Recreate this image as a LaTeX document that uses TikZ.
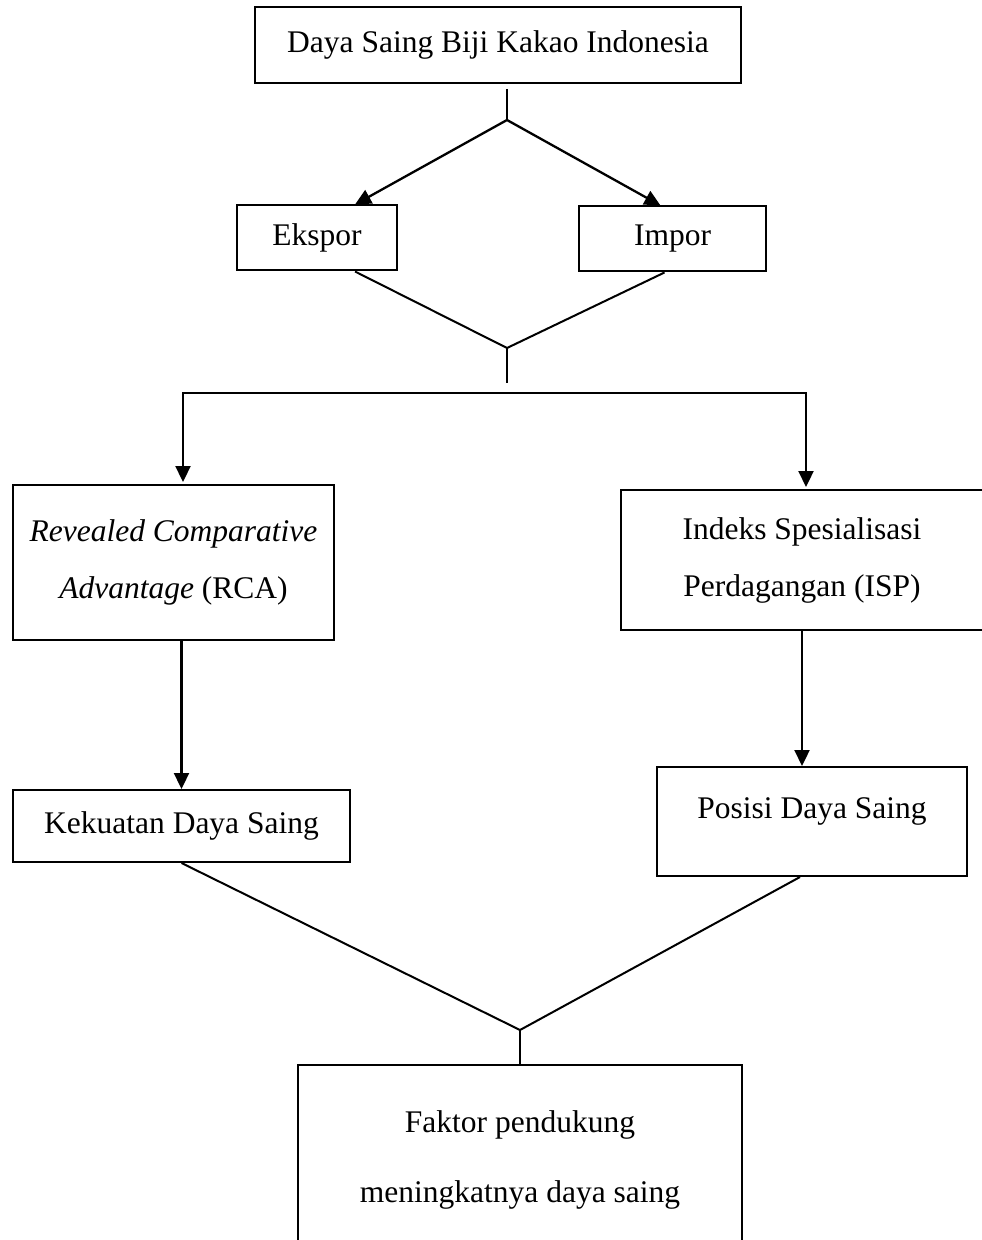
\documentclass[tikz,border=0pt]{standalone}
\usepackage{fontspec}
\setmainfont{Liberation Serif}
\usepackage{tikz}
\usetikzlibrary{positioning, calc, arrows.meta}

\begin{document}
\begin{tikzpicture}[x=0.5pt, y=-0.5pt,
    box/.style={draw, line width=1pt, align=center, inner sep=0pt,
      font=\fontsize{15.75pt}{28.5pt}\selectfont},
    link/.style={line width=1pt},
    arr/.style={line width=1.15pt, -{Triangle[length=8pt,width=7.5pt]}}]
        \useasboundingbox (0,0) rectangle (981,1240);
        % nodes
        \node[box, minimum width=243pt, minimum height=38pt] (top) at (498,45) {Daya Saing Biji Kakao Indonesia};
        \node[box, minimum width=80pt, minimum height=32.5pt] (ekspor) at (317,238) {Ekspor};
        \node[box, minimum width=93.5pt, minimum height=32.5pt] (impor) at (672.5,239) {Impor};
        \node[box, minimum width=160.5pt, minimum height=77.5pt] (rca) at (173.5,562.5)
            {\textit{Revealed Comparative}\\\textit{Advantage} (RCA)};
        \node[box, minimum width=181pt, minimum height=70pt] (isp) at (802,560)
            {Indeks Spesialisasi\\Perdagangan (ISP)};
        \node[box, minimum width=168.5pt, minimum height=36pt] (kekuatan) at (181.5,826) {Kekuatan Daya Saing};
        \node[box, minimum width=155pt, minimum height=54.5pt, text height=11pt, text depth=14.5pt] (posisi) at (812,821.5) {Posisi Daya Saing};
        \node[box, minimum width=222pt, minimum height=95pt] (faktor) at (520,1160)
            {Faktor pendukung\\[6.5pt]meningkatnya daya saing};
        % junctions
        \coordinate (j1) at (507,120);
        \coordinate (j2) at (507,348);
        \coordinate (j2b) at (507,383);
        \coordinate (bar) at (507,393);
        \coordinate (j3) at (520,1030);
        % lines and arrows
        \draw[link, shorten <=2.5pt] (j1 |- top.south) -- (j1);
        \draw[arr] (j1) -- ($(ekspor.north)+(38,0)$);
        \draw[arr] (j1) -- ($(impor.north)+(-12,0)$);
        \draw[link] ($(ekspor.south)+(38,0)$) -- (j2);
        \draw[link] ($(impor.south)+(-8,0)$) -- (j2);
        \draw[link] (j2) -- (j2b);
        \draw[arr, {Triangle[length=8pt,width=7.5pt]}-{Triangle[length=8pt,width=7.5pt]}, shorten <=1pt, shorten >=1pt]
            ($(rca.north)+(9.5,0)$) |- (bar) -| ($(isp.north)+(4,0)$);
        \draw[arr] (kekuatan.north |- rca.south) -- (kekuatan.north);
        \draw[arr] (isp.south) -- (isp.south |- posisi.north);
        \draw[link] (kekuatan.south) -- (j3);
        \draw[link] ($(posisi.south)+(-12,0)$) -- (j3);
        \draw[link] (j3) -- (faktor.north);
\end{tikzpicture}
\end{document}
